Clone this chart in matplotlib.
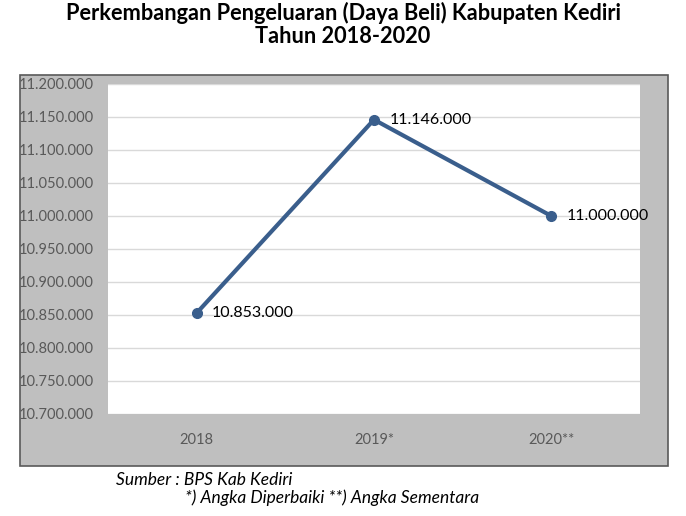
import matplotlib.pyplot as plt
from matplotlib.patches import Rectangle
from matplotlib.ticker import FuncFormatter

years = ["2018", "2019*", "2020**"]
spending = [10853000, 11146000, 11000000]
y_ticks = [10700000 + 50000 * i for i in range(11)]

plt.rcParams["font.family"] = ["Lato", "DejaVu Sans"]


def dotted(v, pos=None):
    return f"{int(v):,}".replace(",", ".")


fig = plt.figure(figsize=(6.86, 5.16), dpi=100)

# grey chart-area box like the Excel original
fig.patches.append(Rectangle((20 / 686, 1 - 466 / 516), 648 / 686, 391 / 516,
                             transform=fig.transFigure, facecolor="#BFBFBF",
                             edgecolor="#595959", linewidth=1.2, zorder=-10))

ax = fig.add_axes([108 / 686, 1 - 414 / 516, 532 / 686, 330 / 516])
ax.set_facecolor("white")

x = range(len(years))
ax.plot(x, spending, color="#3A5E8C", linewidth=3, marker="o", markersize=7,
        zorder=3)
for xi, v in zip(x, spending):
    ax.annotate(dotted(v), (xi, v), xytext=(11, 0), textcoords="offset points",
                va="center", ha="left", fontsize=11.5, color="black")

ax.set_xlim(-0.5, 2.5)
ax.set_ylim(10700000, 11200000)
ax.set_yticks(y_ticks)
ax.yaxis.set_major_formatter(FuncFormatter(dotted))
ax.set_xticks(list(x))
ax.set_xticklabels(years)
ax.tick_params(axis="both", length=0, labelsize=10.5, labelcolor="#595959")
ax.tick_params(axis="y", pad=10)
ax.tick_params(axis="x", pad=14)
ax.grid(axis="y", color="#D9D9D9", linewidth=1)
ax.set_axisbelow(True)
for s in ax.spines.values():
    s.set_visible(False)

fig.text(0.5, 1 - 24 / 516, "Perkembangan Pengeluaran (Daya Beli) Kabupaten Kediri\nTahun 2018-2020",
         ha="center", va="center", fontsize=15.7, fontweight="bold",
         linespacing=1.12)
fig.text(116 / 686, 1 - 480 / 516, "Sumber : BPS Kab Kediri", ha="left",
         va="center", fontsize=12.5, style="italic")
fig.text(185 / 686, 1 - 498 / 516, "*) Angka Diperbaiki **) Angka Sementara",
         ha="left", va="center", fontsize=12.5, style="italic")

fig.savefig("out.png", dpi=100)
